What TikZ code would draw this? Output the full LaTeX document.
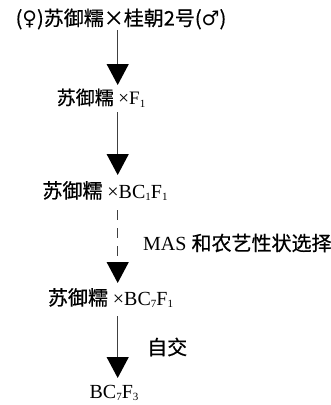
\documentclass[tikz,border=0pt]{standalone}
\usepackage{fontspec}
\setmainfont{Liberation Serif}
\newfontfamily\cjk[FakeBold=0.6]{Noto Sans CJK SC}
\newfontfamily\symf{DejaVu Sans}
\usetikzlibrary{arrows.meta}
\newcommand\lowsub[1]{\raisebox{-0.3ex}{\fontsize{11}{11}\selectfont #1}}
\tikzset{
  lbl/.style={inner sep=0pt, font=\fontsize{20}{22}\selectfont},
  small/.style={font=\fontsize{19}{21}\selectfont},
  flowarrow/.style={line width=1.2pt, draw=black!75,
    -{Triangle[width=22pt,length=21pt,black]}},
  dasharrow/.style={flowarrow, dash pattern=on 10pt off 8pt}
}
\begin{document}
\begin{tikzpicture}[x=1pt,y=-1pt]
\useasboundingbox (0,0) rectangle (331,405);
\node[lbl] (n1) at (121,19) {{\cjk (}{\symf ♀}{\cjk )苏御糯×桂朝2号(}{\symf ♂}{\cjk )}};
\node[lbl, small] (n2) at (101,98) {{\cjk 苏御糯} ×F\lowsub{1}};
\node[lbl] (n3) at (105,191) {{\cjk 苏御糯} ×BC\lowsub{1}F\lowsub{1}};
\node[lbl] (n4) at (110.5,298) {{\cjk 苏御糯} ×BC\lowsub{7}F\lowsub{1}};
\node[lbl] (n5) at (114,393) {BC\lowsub{7}F\lowsub{3}};
\node[lbl, anchor=west] (l1) at (143,243) {MAS {\cjk 和农艺性状选择}};
\node[lbl, anchor=west] (l2) at (147,347) {{\cjk 自交}};
\coordinate (a1s) at (117.7,30);  \coordinate (a1e) at (117.7,85);
\coordinate (a2s) at (117.7,112); \coordinate (a2e) at (117.7,175);
\coordinate (a3s) at (117.7,210); \coordinate (a3e) at (117.7,283);
\coordinate (a4s) at (117.7,316); \coordinate (a4e) at (117.7,378);
\draw[flowarrow] (a1s) -- (a1e);
\draw[flowarrow] (a2s) -- (a2e);
\draw[dasharrow] (a3s) -- (a3e);
\draw[flowarrow] (a4s) -- (a4e);
\end{tikzpicture}
\end{document}
